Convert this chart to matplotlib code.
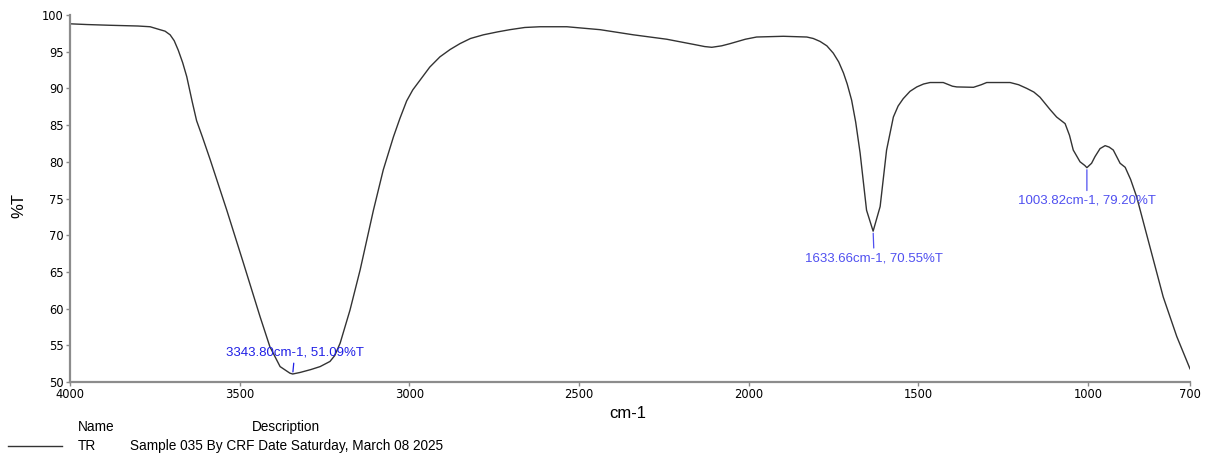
import matplotlib
matplotlib.use("Agg")
import matplotlib.pyplot as plt
from matplotlib.lines import Line2D

plt.rcParams['font.family'] = ['Liberation Sans', 'DejaVu Sans']

# FTIR transmittance spectrum (wavenumber in cm-1, transmittance in %T)
wavenumber = [4000, 3950, 3882, 3800, 3764, 3735, 3720, 3705, 3693, 3681,
              3668, 3656, 3640, 3627, 3610, 3587, 3538, 3489, 3440, 3411,
              3381, 3352, 3343.80, 3322, 3290, 3263, 3234, 3220, 3204, 3175,
              3145, 3106, 3077, 3047, 3028, 3008, 2990, 2969, 2940, 2910,
              2880, 2851, 2820, 2782, 2740, 2704, 2660, 2615, 2536, 2438,
              2340, 2242, 2163, 2130, 2109, 2080, 2055, 2010, 1977, 1898,
              1829, 1810, 1790, 1770, 1751, 1735, 1721, 1710, 1697, 1685,
              1672, 1653, 1633.66, 1613, 1594, 1574, 1560, 1545, 1525, 1505,
              1485, 1466, 1427, 1400, 1387, 1338, 1315, 1299, 1230, 1205,
              1181, 1160, 1142, 1112, 1093, 1068, 1055, 1044, 1024, 1010,
              1003.82, 990, 980, 965, 950, 938, 926, 906, 891, 875,
              857, 818, 779, 739, 700]
transmittance = [98.8, 98.7, 98.6, 98.5, 98.4, 98.0, 97.8, 97.3, 96.5, 95.2,
                 93.5, 91.6, 88.2, 85.6, 83.4, 80.3, 73.4, 66.2, 58.9, 54.8,
                 52.1, 51.2, 51.09, 51.3, 51.7, 52.1, 52.8, 53.6, 55.3, 59.8,
                 65.3, 73.4, 78.9, 83.4, 85.9, 88.3, 89.8, 91.1, 92.9, 94.3,
                 95.3, 96.1, 96.8, 97.3, 97.7, 98.0, 98.3, 98.4, 98.4, 98.0,
                 97.3, 96.7, 96.0, 95.7, 95.6, 95.8, 96.1, 96.7, 97.0, 97.1,
                 97.0, 96.8, 96.4, 95.8, 94.8, 93.6, 92.1, 90.6, 88.4, 85.4,
                 81.2, 73.4, 70.55, 73.9, 81.6, 86.1, 87.6, 88.6, 89.6, 90.2,
                 90.6, 90.8, 90.8, 90.3, 90.2, 90.15, 90.5, 90.8, 90.8, 90.5,
                 90.0, 89.5, 88.8, 87.1, 86.1, 85.2, 83.6, 81.6, 80.0, 79.5,
                 79.20, 79.8, 80.7, 81.8, 82.2, 82.0, 81.6, 79.8, 79.25, 77.6,
                 75.2, 68.4, 61.6, 56.2, 51.8]

# Labelled peaks
peak_wn = [3343.80, 1633.66, 1003.82]
peak_t = [51.09, 70.55, 79.20]
peak_colors = ['#2020e6', '#5050f0', '#5050f0']
peak_offsets = [(2, 21), (1, -27), (0, -33)]  # pixels

x_ticks = [4000, 3500, 3000, 2500, 2000, 1500, 1000, 700]
y_ticks = [50, 55, 60, 65, 70, 75, 80, 85, 90, 95, 100]

W, H = 1213, 457
fig = plt.figure(figsize=(W / 100, H / 100), dpi=100)
ax = fig.add_axes([70 / W, 1 - 382 / H, 1120 / W, 367 / H])

ax.plot(wavenumber, transmittance, color='#333333', lw=1.0)

ax.set_xlim(4000, 700)
ax.set_ylim(50, 100)
ax.set_xticks(x_ticks)
ax.set_yticks(y_ticks)

for s in ['top', 'right']:
    ax.spines[s].set_visible(False)
for s in ['left', 'bottom']:
    ax.spines[s].set_color('#8c8c8c')
    ax.spines[s].set_linewidth(1.6)
ax.tick_params(axis='both', direction='out', length=3, width=1,
               color='#8c8c8c', labelcolor='black', pad=1.5)
for lab in ax.get_xticklabels() + ax.get_yticklabels():
    lab.set_fontfamily('DejaVu Sans')
    lab.set_fontsize(8.3)

ax.set_xlabel('cm-1', fontsize=12, va='center')
ax.set_ylabel('%T', fontsize=12, va='center')
ax.xaxis.set_label_coords(0.498, -0.0845)
ax.yaxis.set_label_coords(-0.0455, 0.482)

for wn, t, c, (dx, dy) in zip(peak_wn, peak_t, peak_colors, peak_offsets):
    ax.annotate(f'{wn:.2f}cm-1, {t:.2f}%T', xy=(wn, t),
                xytext=(dx, dy), textcoords='offset pixels',
                ha='center', va='center', fontsize=9.5, color=c,
                arrowprops=dict(arrowstyle='-', color=c, lw=0.9,
                                shrinkA=1, shrinkB=1.5))

# Trace legend below the plot
fs_leg = 9.8
fig.text(78 / W, 1 - 427 / H, 'Name', fontsize=fs_leg, va='center', ha='left')
fig.text(252 / W, 1 - 427 / H, 'Description', fontsize=fs_leg, va='center', ha='left')
fig.add_artist(Line2D([8 / W, 62 / W], [1 - 446 / H, 1 - 446 / H],
                      transform=fig.transFigure, color='#333333', lw=1.0))
fig.text(78 / W, 1 - 446 / H, 'TR', fontsize=fs_leg, va='center', ha='left')
fig.text(130 / W, 1 - 446 / H, 'Sample 035 By CRF Date Saturday, March 08 2025',
         fontsize=fs_leg, va='center', ha='left')

fig.savefig('out.png', dpi=100)
